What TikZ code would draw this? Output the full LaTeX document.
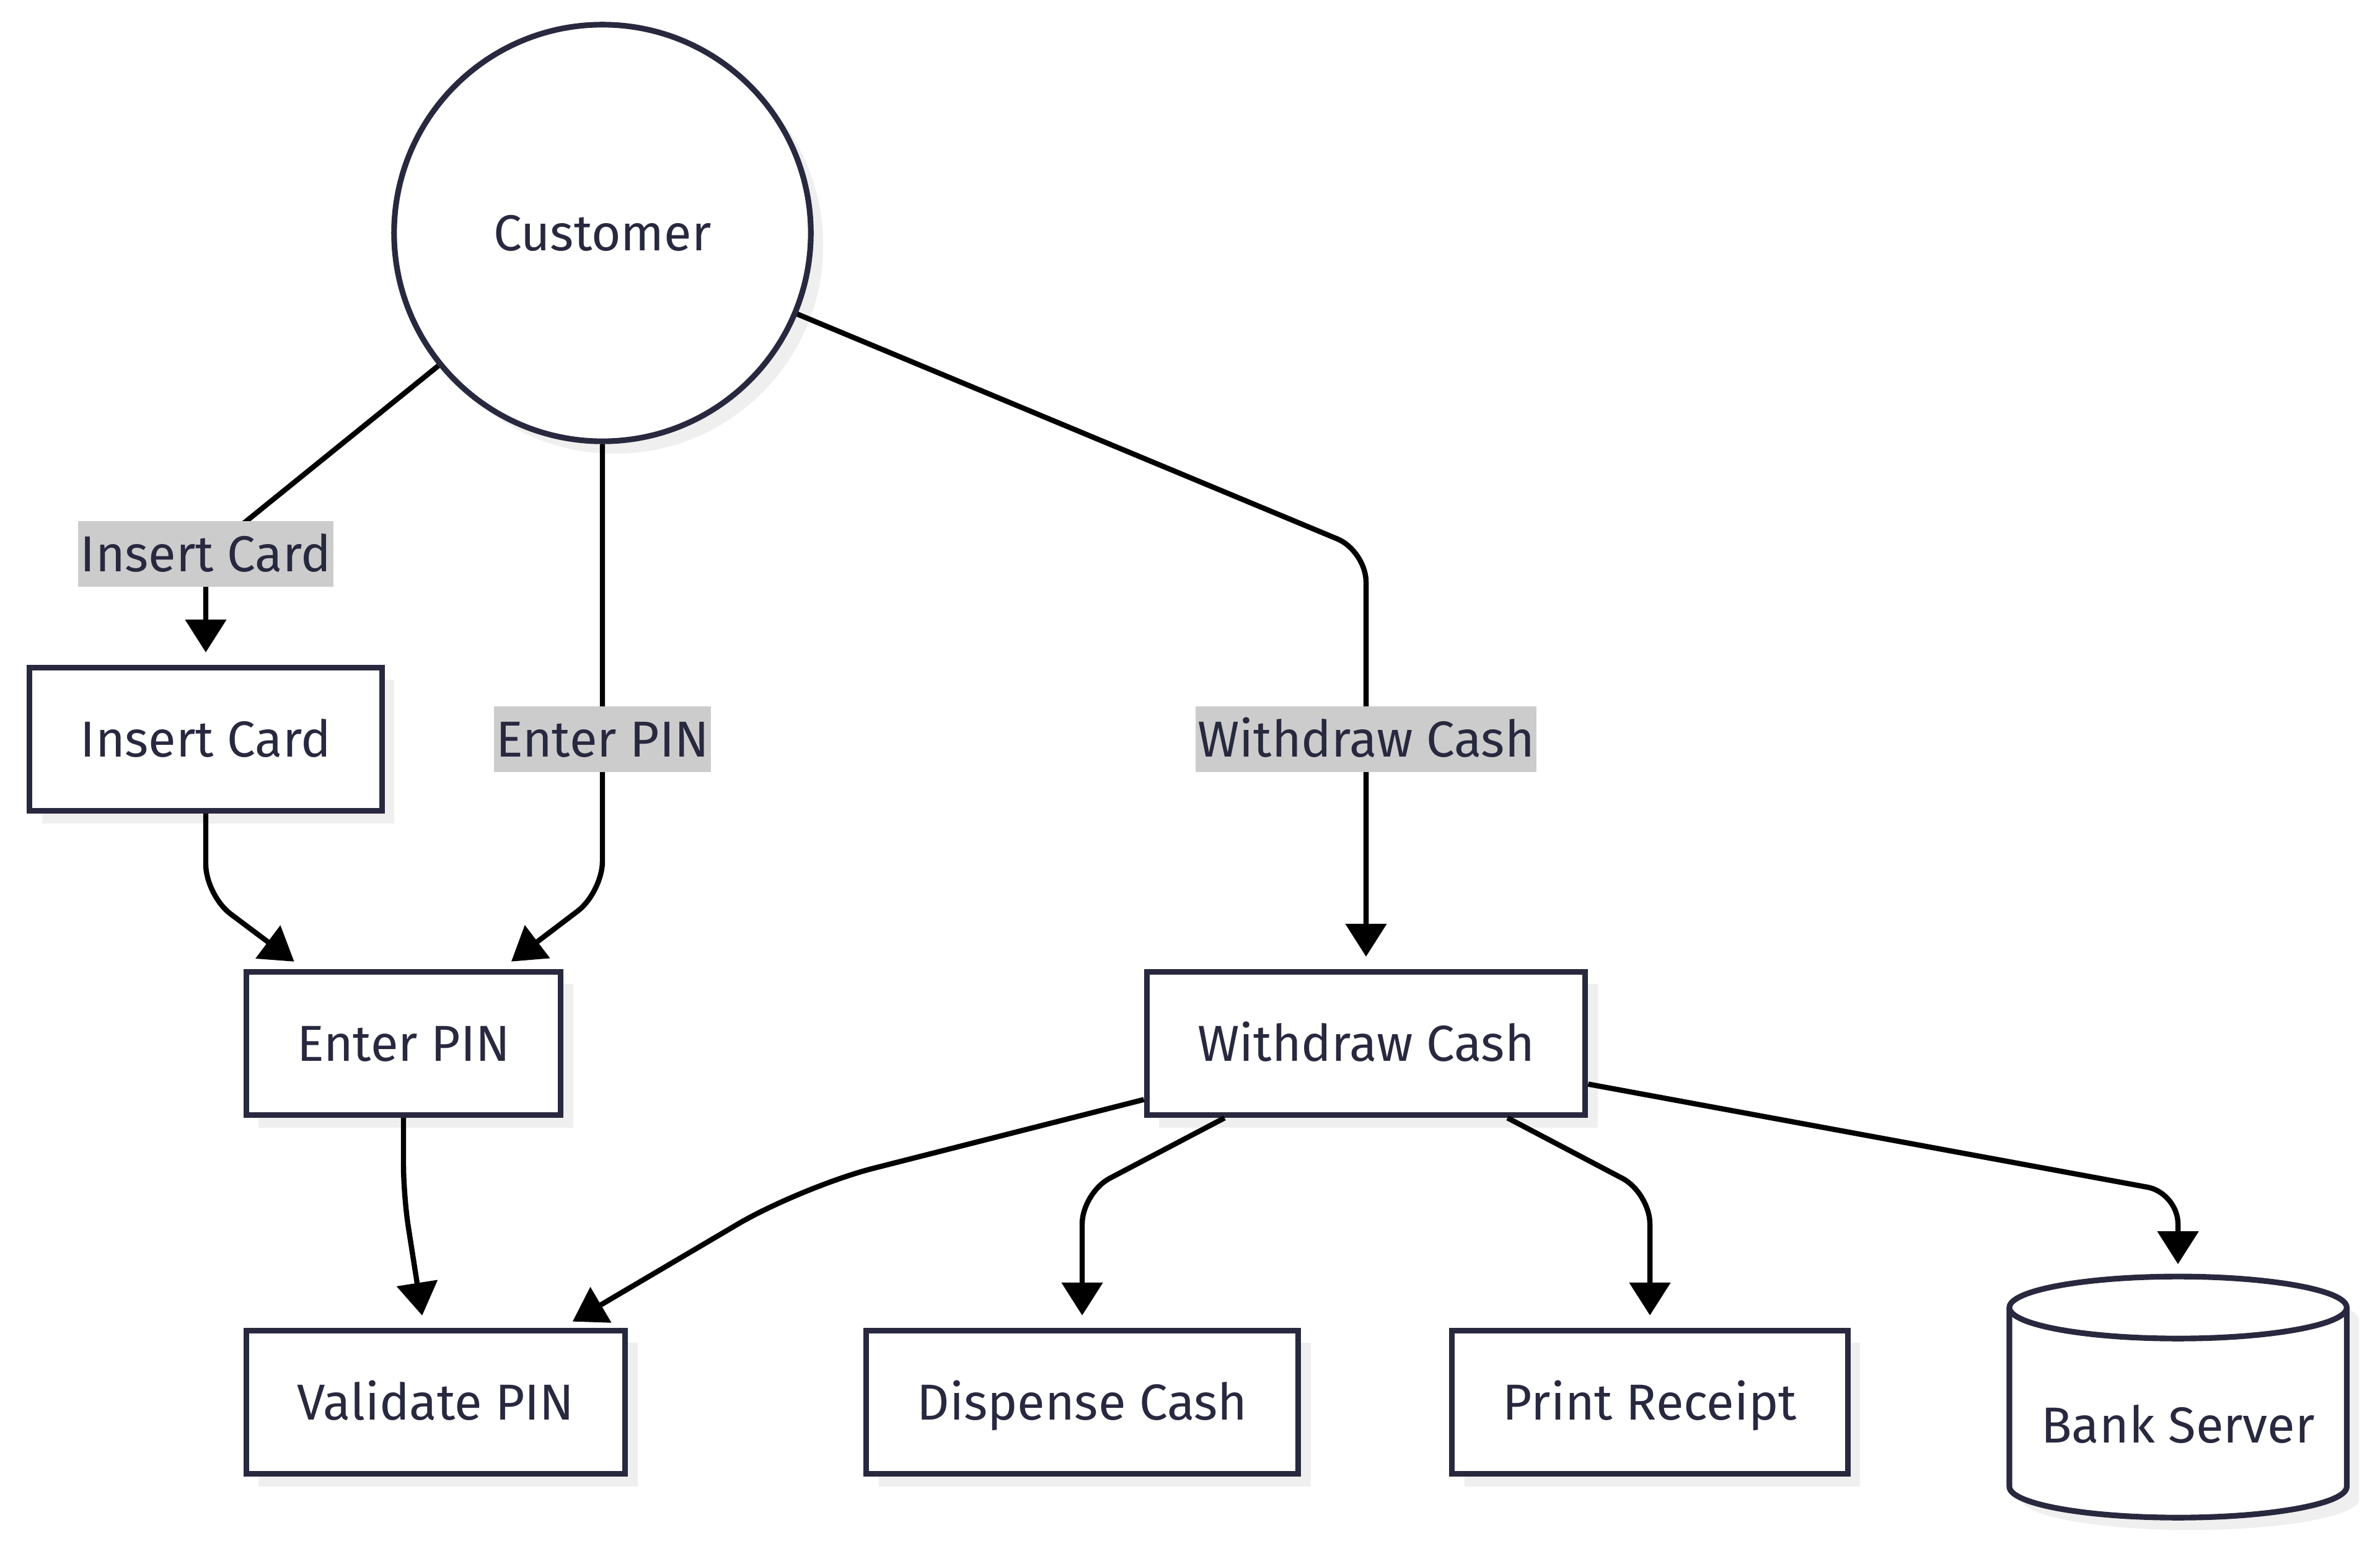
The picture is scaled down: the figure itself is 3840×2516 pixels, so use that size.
\documentclass[tikz,border=0pt]{standalone}
\usepackage{fontspec}
\setmainfont{Fira Sans}
\usetikzlibrary{arrows.meta,shadows,backgrounds,calc}

\definecolor{inkline}{HTML}{28283F}
\definecolor{labelgray}{HTML}{CCCCCC}
\definecolor{shadowgray}{HTML}{EFEFEF}

\tikzset{
  boxshadow/.style={general shadow={fill=shadowgray,shadow xshift=0.2cm,shadow yshift=-0.2cm}},
  actor/.style={circle,draw=inkline,line width=2.6pt,fill=white,minimum size=6.72cm,boxshadow},
  process/.style={rectangle,draw=inkline,line width=2.6pt,fill=white,minimum height=2.31cm,inner xsep=0.82cm,
    text height=20pt,text depth=4pt,boxshadow},
  store/.style={rectangle,minimum width=5.44cm,minimum height=4.78cm,text height=20pt,text depth=4pt},
  elabel/.style={fill=labelgray,sharp corners,inner xsep=1pt,inner ysep=0pt,minimum height=1.05cm,
    text height=20pt,text depth=4pt},
  flow/.style={draw=black,line width=2.4pt,-{Triangle[length=0.53cm,width=0.65cm]},shorten >=0.2cm,rounded corners=0.5cm},
  cyl/.style={draw=inkline,line width=2.6pt}
}

\begin{document}
\begin{tikzpicture}[x=0.01cm,y=-0.01cm,font=\fontsize{23.2}{28}\selectfont,text=inkline]
 \useasboundingbox (0,0) rectangle (3840,2516);

 \draw (972,376) node[actor] (cust) {Customer};
 \draw (332,1193) node[process] (ic) {Insert Card};
 \draw (651,1684) node[process] (ep) {Enter PIN};
 \draw (2204,1684) node[process] (wc) {Withdraw Cash};
 \draw (703,2263) node[process] (vp) {Validate PIN};
 \draw (1746,2263) node[process] (dc) {Dispense Cash};
 \draw (2662,2263) node[process] (pr) {Print Receipt};
 \draw (3514,2300) node[store] (bs) {Bank Server};

 % cylinder for the bank server
 \begin{scope}[on background layer]
  \fill[shadowgray] ($(bs.north)+(-252,70)$) -- ++(0,289) arc[start angle=180,end angle=360,x radius=2.72cm,y radius=0.5cm]
    -- ++(0,-289) arc[start angle=0,end angle=180,x radius=2.72cm,y radius=0.5cm] -- cycle;
  \draw[cyl,fill=white] ($(bs.north)+(-272,50)$) -- ++(0,289) arc[start angle=180,end angle=360,x radius=2.72cm,y radius=0.5cm]
    -- ++(0,-289) arc[start angle=0,end angle=180,x radius=2.72cm,y radius=0.5cm] -- cycle;
  \draw[cyl] ($(bs.north)+(-272,50)$) arc[start angle=180,end angle=360,x radius=2.72cm,y radius=0.5cm];
 \end{scope}

 \draw[flow] (cust) -- (332,894) node[elabel] {Insert Card} -- (ic);
 \draw[flow] (cust) -- (972,1193) node[elabel] {Enter PIN} -- (972,1440) -- (ep);
 \draw[flow] (cust) -- (2204,889) -- (2204,1193) node[elabel] {Withdraw Cash} -- (wc);
 \draw[flow] (ic) -- (332,1445) -- (ep);
 \draw[flow] (ep) -- (651,1930) -- (vp);
 \draw[flow,rounded corners=1.2cm] (wc) -- (1293,1915) -- (vp);
 \draw[flow] (wc) -- (1746,1925) -- (dc);
 \draw[flow] (wc) -- (2662,1925) -- (pr);
 \draw[flow] (wc) -- (3514,1925) -- (bs);
\end{tikzpicture}
\end{document}
